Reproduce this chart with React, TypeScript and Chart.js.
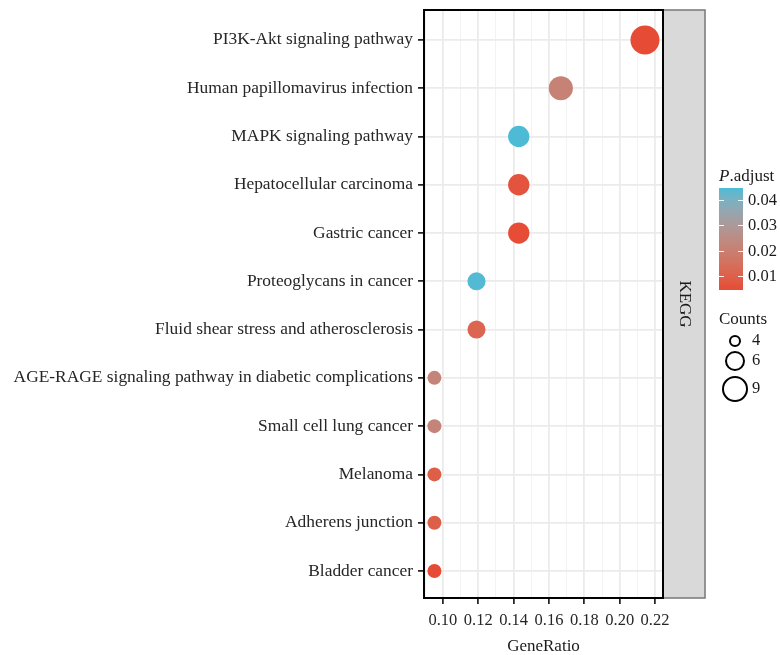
import React, { useEffect, useRef } from "react";
import { Chart, registerables } from "chart.js";

Chart.register(...registerables);

const categories = [
  "PI3K-Akt signaling pathway",
  "Human papillomavirus infection",
  "MAPK signaling pathway",
  "Hepatocellular carcinoma",
  "Gastric cancer",
  "Proteoglycans in cancer",
  "Fluid shear stress and atherosclerosis",
  "AGE-RAGE signaling pathway in diabetic complications",
  "Small cell lung cancer",
  "Melanoma",
  "Adherens junction",
  "Bladder cancer",
];
const geneRatio = [0.2143, 0.1667, 0.1429, 0.1429, 0.1429, 0.119, 0.119, 0.0952, 0.0952, 0.0952, 0.0952, 0.0952];
const counts = [9, 7, 6, 6, 6, 5, 5, 4, 4, 4, 4, 4];
const pAdjust = [0.0045, 0.021, 0.0447, 0.0065, 0.0048, 0.0442, 0.0115, 0.022, 0.022, 0.0095, 0.0095, 0.0046];
const xMajorTicks = [0.1, 0.12, 0.14, 0.16, 0.18, 0.2, 0.22];
const xMinorTicks = [0.09, 0.11, 0.13, 0.15, 0.17, 0.19, 0.21];
const colorBreaks = [0.01, 0.02, 0.03, 0.04];
const sizeBreaks = [4, 6, 9];
const panelLabel = "KEGG";

const LOW = [230, 75, 53];
const HIGH = [77, 187, 213];
const FONT = "'Liberation Serif', 'DejaVu Serif', serif";
const TEXT = "#262626";

function toLin(c: number) {
  c /= 255;
  return c <= 0.04045 ? c / 12.92 : Math.pow((c + 0.055) / 1.055, 2.4);
}
function fromLin(c: number) {
  const v = c <= 0.0031308 ? 12.92 * c : 1.055 * Math.pow(c, 1 / 2.4) - 0.055;
  return Math.round(Math.max(0, Math.min(1, v)) * 255);
}
function rgb2lab(rgb: number[]) {
  const r = toLin(rgb[0]), g = toLin(rgb[1]), b = toLin(rgb[2]);
  const X = (0.4124 * r + 0.3576 * g + 0.1805 * b) / 0.95047;
  const Y = 0.2126 * r + 0.7152 * g + 0.0722 * b;
  const Z = (0.0193 * r + 0.1192 * g + 0.9505 * b) / 1.08883;
  const f = (t: number) => (t > 0.008856 ? Math.cbrt(t) : 7.787 * t + 16 / 116);
  return [116 * f(Y) - 16, 500 * (f(X) - f(Y)), 200 * (f(Y) - f(Z))];
}
function lab2rgb(lab: number[]) {
  const fy = (lab[0] + 16) / 116;
  const fx = fy + lab[1] / 500;
  const fz = fy - lab[2] / 200;
  const inv = (t: number) => (t * t * t > 0.008856 ? t * t * t : (t - 16 / 116) / 7.787);
  const X = inv(fx) * 0.95047, Y = inv(fy), Z = inv(fz) * 1.08883;
  const r = 3.2406 * X - 1.5372 * Y - 0.4986 * Z;
  const g = -0.9689 * X + 1.8758 * Y + 0.0415 * Z;
  const b = 0.0557 * X - 0.204 * Y + 1.057 * Z;
  return [fromLin(r), fromLin(g), fromLin(b)];
}
const LOW_LAB = rgb2lab(LOW);
const HIGH_LAB = rgb2lab(HIGH);
const pMin = Math.min(...pAdjust);
const pMax = Math.max(...pAdjust);
function colorFor(p: number) {
  const t = Math.max(0, Math.min(1, (p - pMin) / (pMax - pMin)));
  const lab = LOW_LAB.map((v, i) => v + (HIGH_LAB[i] - v) * t);
  const c = lab2rgb(lab);
  return `rgb(${c[0]},${c[1]},${c[2]})`;
}
const cMin = Math.min(...counts);
const cMax = Math.max(...counts);
function radiusFor(n: number) {
  const rMin = 7, rMax = 14.5;
  const a = rMin * rMin + ((n - cMin) / (cMax - cMin)) * (rMax * rMax - rMin * rMin);
  return Math.sqrt(a);
}

const decorPlugin = {
  id: "decor",
  afterDraw(chart: any) {
    const ctx = chart.ctx as CanvasRenderingContext2D;
    const a = chart.chartArea;
    ctx.save();
    // strip
    const sx = a.right, sw = 42;
    ctx.fillStyle = "#D9D9D9";
    ctx.fillRect(sx, a.top, sw, a.bottom - a.top);
    ctx.strokeStyle = "#777";
    ctx.lineWidth = 1.5;
    ctx.strokeRect(sx, a.top, sw, a.bottom - a.top);
    ctx.save();
    ctx.translate(sx + sw / 2, (a.top + a.bottom) / 2);
    ctx.rotate(Math.PI / 2);
    ctx.fillStyle = "#1A1A1A";
    ctx.font = `17px ${FONT}`;
    ctx.textAlign = "center";
    ctx.textBaseline = "middle";
    ctx.fillText(panelLabel, 0, 0);
    ctx.restore();
    // panel border
    ctx.strokeStyle = "#000";
    ctx.lineWidth = 2;
    ctx.strokeRect(a.left, a.top, a.right - a.left, a.bottom - a.top);

    // colour legend
    const lx = 719;
    ctx.fillStyle = "#1A1A1A";
    ctx.textBaseline = "middle";
    ctx.textAlign = "left";
    ctx.font = `italic 17px ${FONT}`;
    ctx.fillText("P", lx, 177);
    const pw = ctx.measureText("P").width;
    ctx.font = `17px ${FONT}`;
    ctx.fillText(".adjust", lx + pw, 177);
    const barTop = 188, barBot = 290, barW = 24;
    const vToY = (v: number) => barBot - ((v - pMin) / (pMax - pMin)) * (barBot - barTop);
    for (let y = barTop; y < barBot; y++) {
      const v = pMin + ((barBot - y - 0.5) / (barBot - barTop)) * (pMax - pMin);
      ctx.fillStyle = colorFor(v);
      ctx.fillRect(lx, y, barW, 1);
    }
    ctx.strokeStyle = "rgba(255,255,255,0.9)";
    ctx.lineWidth = 1;
    ctx.font = `16.5px ${FONT}`;
    for (const v of colorBreaks) {
      const y = Math.round(vToY(v)) + 0.5;
      ctx.beginPath();
      ctx.moveTo(lx, y);
      ctx.lineTo(lx + 5, y);
      ctx.moveTo(lx + barW - 5, y);
      ctx.lineTo(lx + barW, y);
      ctx.stroke();
      ctx.fillStyle = "#1A1A1A";
      ctx.fillText(v.toFixed(2), lx + barW + 5, y);
    }
    // size legend
    ctx.font = `17px ${FONT}`;
    ctx.fillText("Counts", lx, 320);
    const sizeY = [341, 361, 389];
    const sizeR = [5, 9, 12];
    sizeBreaks.forEach((n, i) => {
      ctx.beginPath();
      ctx.arc(735, sizeY[i], sizeR[i], 0, Math.PI * 2);
      ctx.strokeStyle = "#000";
      ctx.lineWidth = 2;
      ctx.stroke();
      ctx.fillStyle = "#1A1A1A";
      ctx.font = `16.5px ${FONT}`;
      ctx.fillText(String(n), 752, sizeY[i]);
    });
    ctx.restore();
  },
};

export default function App() {
  const ref = useRef<HTMLCanvasElement | null>(null);
  useEffect(() => {
    if (!ref.current) return;
    const allX = [...xMinorTicks, ...xMajorTicks].sort((p, q) => p - q);
    const isMajor = (v: number) => xMajorTicks.some((m) => Math.abs(m - v) < 1e-9);
    const chart = new Chart(ref.current, {
      type: "scatter",
      data: {
        datasets: [
          {
            data: categories.map((_, i) => ({ x: geneRatio[i], y: i })),
            pointRadius: counts.map(radiusFor),
            pointHoverRadius: counts.map(radiusFor),
            backgroundColor: pAdjust.map(colorFor),
            borderWidth: 0,
          },
        ],
      },
      options: {
        animation: false,
        responsive: false,
        layout: { autoPadding: false, padding: { left: 0, top: 10, right: 117, bottom: 0 } },
        plugins: { legend: { display: false }, tooltip: { enabled: false } },
        scales: {
          x: {
            type: "linear",
            min: 0.0893,
            max: 0.2245,
            afterBuildTicks: (s: any) => {
              s.ticks = allX.map((v) => ({ value: v }));
            },
            afterFit: (s: any) => {
              s.height = 57;
              s.paddingLeft = 0;
              s.paddingRight = 0;
            },
            border: { display: false },
            grid: {
              color: (c: any) => (c.tick && isMajor(c.tick.value) ? "#EBEBEB" : "#F2F2F2"),
              lineWidth: (c: any) => (c.tick && isMajor(c.tick.value) ? 1.8 : 0.9),
              tickColor: (c: any) => (c.tick && isMajor(c.tick.value) ? "#000" : "rgba(0,0,0,0)"),
              tickWidth: 1.5,
              tickLength: 6,
            },
            ticks: {
              autoSkip: false,
              maxRotation: 0,
              padding: 7,
              color: TEXT,
              font: { family: FONT, size: 16.5 },
              callback: (v: any) => (isMajor(Number(v)) ? Number(v).toFixed(2) : ""),
            },
            title: {
              display: true,
              text: "GeneRatio",
              color: "#1A1A1A",
              font: { family: FONT, size: 17 },
              padding: { top: 2, bottom: -2 },
            },
          },
          y: {
            type: "linear",
            min: -0.62,
            max: 11.56,
            reverse: true,
            afterBuildTicks: (s: any) => {
              s.ticks = categories.map((_, i) => ({ value: i }));
            },
            afterFit: (s: any) => {
              s.width = 424;
              s.paddingTop = 0;
              s.paddingBottom = 0;
            },
            border: { display: false },
            grid: {
              color: "#EBEBEB",
              lineWidth: 1.8,
              tickColor: "#000",
              tickWidth: 1.5,
              tickLength: 6,
            },
            ticks: {
              autoSkip: false,
              padding: 5,
              color: TEXT,
              font: { family: FONT, size: 17.4 },
              callback: (v: any) => categories[Math.round(Number(v))] ?? "",
            },
          },
        },
      },
      plugins: [decorPlugin],
    } as any);
    return () => chart.destroy();
  }, []);
  return (
    <div style={{ position: "fixed", left: 0, top: 0, width: 780, height: 655, background: "#fff" }}>
      <canvas ref={ref} width={780} height={655} style={{ width: 780, height: 655 }} />
    </div>
  );
}
